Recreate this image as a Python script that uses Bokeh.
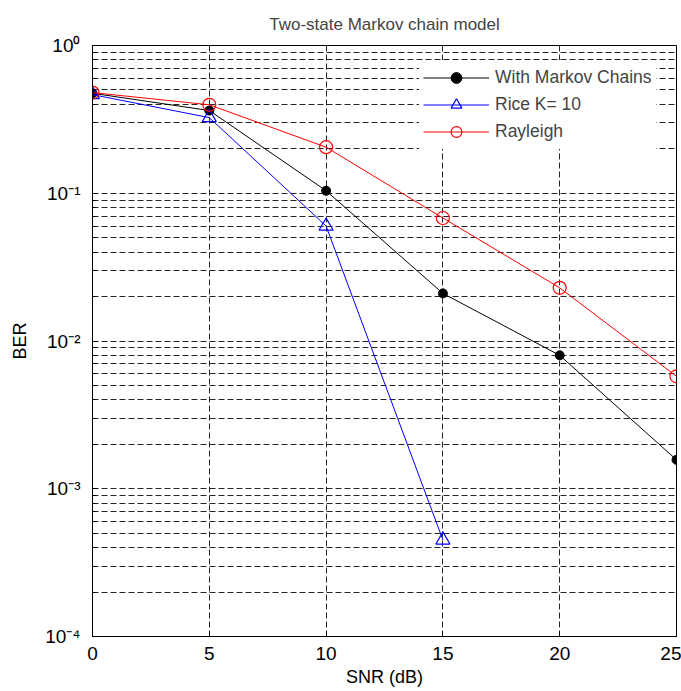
from bokeh.plotting import figure
from bokeh.models import FixedTicker, CustomJSTickFormatter, Range1d
from bokeh.embed import file_html
from bokeh.resources import INLINE

# Data
snr = [0, 5, 10, 15, 20, 25]
markov = [0.475, 0.363, 0.104, 0.021, 0.0080, 0.00157]
rice_snr = [0, 5, 10, 15]
rice = [0.465, 0.325, 0.060, 0.00045]
rayleigh = [0.48, 0.397, 0.205, 0.068, 0.0229, 0.00577]

x_ticks = [0, 5, 10, 15, 20, 25]
y_ticks = [1e-4, 1e-3, 1e-2, 1e-1, 1.0]
y_minor = [m * 10.0 ** k for k in range(-4, 0) for m in range(2, 10)]

FONT = "Liberation Sans"

p = figure(width=681, height=691, y_axis_type="log",
           x_range=Range1d(0, 25), y_range=Range1d(1e-4, 1),
           output_backend="svg", toolbar_location=None,
           min_border_left=92, min_border_right=5,
           min_border_top=45, min_border_bottom=55,
           title="Two-state Markov chain model")

p.title.text_font = FONT
p.title.text_font_size = "17px"
p.title.text_font_style = "normal"
p.title.align = "center"
p.title.standoff = 24

p.line(snr, markov, color="black", line_width=1, legend_label="With Markov Chains")
p.scatter(snr, markov, marker="circle", size=9, color="black", legend_label="With Markov Chains")

p.line(rice_snr, rice, color="#0000ff", line_width=1, legend_label="Rice K= 10")
p.scatter(rice_snr, rice, marker="triangle", size=14, fill_color=None,
          line_color="#0000ff", line_width=1.2, legend_label="Rice K= 10")

p.line(snr, rayleigh, color="#ff0000", line_width=1, legend_label="Rayleigh")
p.scatter(snr, rayleigh, marker="circle", size=13, fill_color=None,
          line_color="#ff0000", line_width=1.2, legend_label="Rayleigh")

# axes
p.xaxis.ticker = FixedTicker(ticks=x_ticks)
p.yaxis.ticker = FixedTicker(ticks=y_ticks, minor_ticks=y_minor)
p.yaxis.formatter = CustomJSTickFormatter(code="""
const e = Math.round(Math.log10(tick));
const sup = {'0':'\u2070','1':'\u00b9','2':'\u00b2','3':'\u00b3','4':'\u2074','-':'\u207b'};
return '10' + String(e).split('').map(c => sup[c]).join('');
""")
p.xaxis.axis_label = "SNR (dB)"
p.yaxis.axis_label = "BER"
for ax in p.axis:
    ax.axis_label_text_font = FONT
    ax.axis_label_text_font_size = "18px"
    ax.axis_label_text_font_style = "normal"
    ax.major_label_text_font = FONT
    ax.major_label_text_font_size = "19px"
    ax.axis_line_color = "black"
    ax.major_tick_line_color = "black"
    ax.major_tick_in = 5
    ax.major_tick_out = 0
    ax.minor_tick_in = 3
    ax.minor_tick_out = 0
    ax.minor_tick_line_color = "black"
    ax.major_label_text_color = "black"
    ax.axis_label_text_color = "black"
p.xaxis.minor_tick_line_color = None
p.xaxis.major_label_standoff = 10
p.xaxis.axis_label_standoff = 4
p.yaxis.major_label_standoff = 12
p.yaxis.axis_label_standoff = 12

# grid
for g in (p.xgrid, p.ygrid):
    g.grid_line_color = "black"
    g.grid_line_dash = "6 3"
    g.grid_line_alpha = 0.85
p.ygrid.minor_grid_line_color = "black"
p.ygrid.minor_grid_line_dash = "6 3"
p.ygrid.minor_grid_line_alpha = 0.85

p.outline_line_color = "black"
p.outline_line_alpha = 1.0
p.background_fill_color = "white"
p.border_fill_color = "white"

leg = p.legend[0]
leg.location = (327, 487)
leg.label_text_font = FONT
leg.label_text_font_size = "17.5px"
leg.glyph_width = 66
leg.glyph_height = 27
leg.label_height = 20
leg.label_standoff = 6
leg.spacing = 0
leg.padding = 4
leg.margin = 0
leg.border_line_alpha = 0
leg.background_fill_color = "white"
leg.background_fill_alpha = 1.0

open("out.html", "w").write(file_html(p, INLINE))
